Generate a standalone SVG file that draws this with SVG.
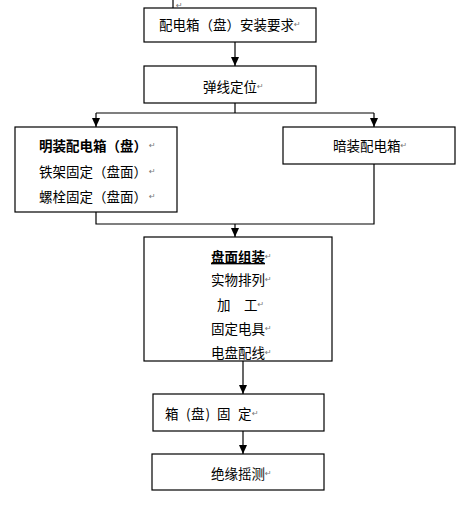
<svg xmlns="http://www.w3.org/2000/svg" width="462" height="517" viewBox="0 0 462 517">
<style>
.box{fill:#fff;stroke:#000;stroke-width:1.2}
.t{font-family:"Noto Sans CJK SC","Noto Sans CJK JP",sans-serif;font-size:13.5px;fill:#000;dominant-baseline:central}
.b{font-weight:bold}
.pm{font-family:"DejaVu Sans",sans-serif;font-size:8px;fill:#777;font-weight:normal;text-decoration:none}
.ln{fill:none;stroke:#000;stroke-width:1.2}
</style>
<defs>
<marker id="ah" viewBox="0 0 9 8" refX="9" refY="4" markerWidth="9" markerHeight="8" markerUnits="userSpaceOnUse" orient="auto">
<path d="M0,0 L9,4 L0,8 Z" fill="#000"/>
</marker>
</defs>
<g id="connectors">
<line class="ln" x1="173" y1="0" x2="173" y2="8" stroke-width="2"/>
<text class="pm" x="176" y="8">↵</text>
<path class="ln" d="M235,42 V66" marker-end="url(#ah)"/>
<path class="ln" d="M235,103 V113 M96,113 H374"/>
<path class="ln" d="M96,113 V127" marker-end="url(#ah)"/>
<path class="ln" d="M374,113 V127" marker-end="url(#ah)"/>
<path class="ln" d="M96,212 V224 H374 V164"/>
<path class="ln" d="M235,224 V237" marker-end="url(#ah)"/>
<path class="ln" d="M243,361 V394" marker-end="url(#ah)"/>
<path class="ln" d="M243,431 V454" marker-end="url(#ah)"/>
</g>
<g id="n1">
<rect class="box" x="144" y="8" width="172" height="34"/>
<text class="t" x="159" y="24">配电箱（盘）安装要求<tspan class="pm">↵</tspan></text>
</g>
<g id="n2">
<rect class="box" x="144" y="66" width="172" height="37"/>
<text class="t" x="203" y="86">弹线定位<tspan class="pm">↵</tspan></text>
</g>
<g id="n3">
<rect class="box" x="15" y="127" width="162" height="85"/>
<text class="t b" x="39" y="145">明装配电箱（盘）<tspan class="pm" dx="2">↵</tspan></text>
<text class="t" x="39" y="171">铁架固定（盘面）<tspan class="pm" dx="2">↵</tspan></text>
<text class="t" x="39" y="196">螺栓固定（盘面）<tspan class="pm" dx="2">↵</tspan></text>
</g>
<g id="n4">
<rect class="box" x="283" y="127" width="172" height="37"/>
<text class="t" x="333" y="145">暗装配电箱<tspan class="pm">↵</tspan></text>
</g>
<g id="n5">
<rect class="box" x="144" y="237" width="188" height="124"/>
<text class="t b" x="211" y="256"><tspan text-decoration="underline">盘面组装</tspan><tspan class="pm">↵</tspan></text>
<text class="t" x="211" y="279">实物排列<tspan class="pm">↵</tspan></text>
<text class="t" x="217" y="304">加　工<tspan class="pm">↵</tspan></text>
<text class="t" x="211" y="328">固定电具<tspan class="pm">↵</tspan></text>
<text class="t" x="211" y="352">电盘配线<tspan class="pm">↵</tspan></text>
</g>
<g id="n6">
<rect class="box" x="153" y="394" width="171" height="37"/>
<text class="t" y="413"><tspan x="165">箱</tspan><tspan x="186">(</tspan><tspan x="191">盘</tspan><tspan x="205.5">)</tspan><tspan x="217">固</tspan><tspan x="238">定</tspan><tspan class="pm" x="252">↵</tspan></text>
</g>
<g id="n7">
<rect class="box" x="152" y="454" width="172" height="36"/>
<text class="t" x="211" y="473">绝缘摇测<tspan class="pm">↵</tspan></text>
</g>
</svg>
